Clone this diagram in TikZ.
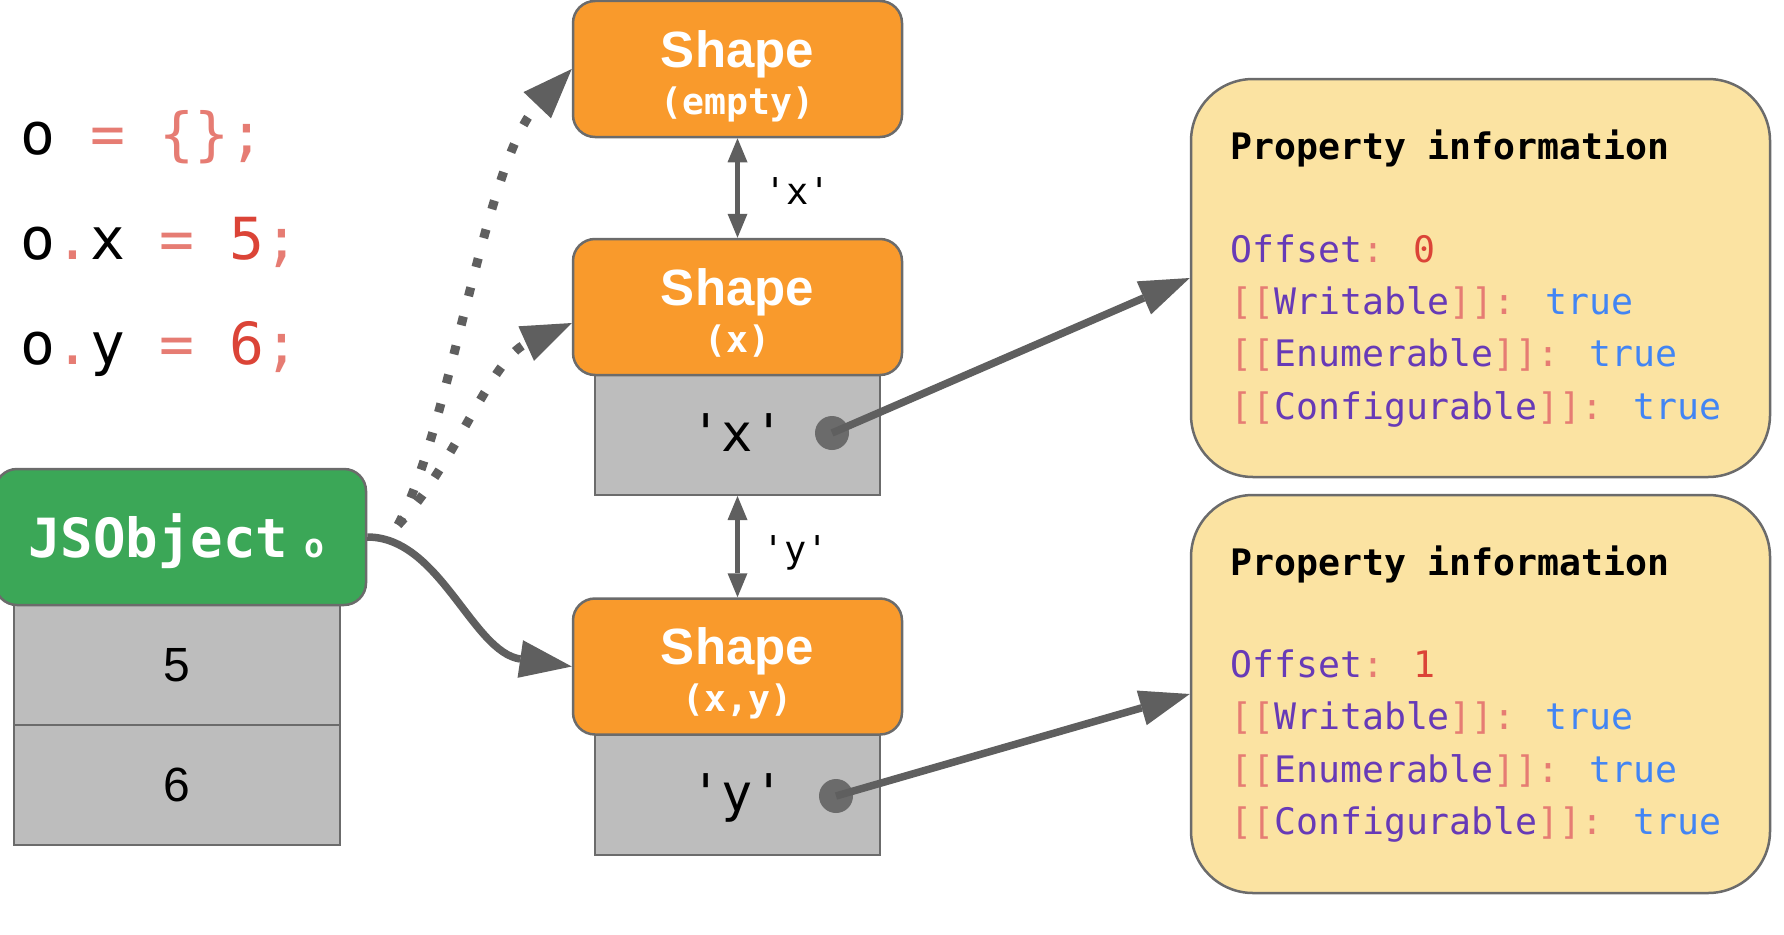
\documentclass[tikz,border=0pt]{standalone}
\usepackage{fontspec}
\setmainfont{Liberation Sans}
\newfontfamily\monof{DejaVu Sans Mono}[Ligatures=TeXOff]
\usetikzlibrary{arrows.meta,calc}
\definecolor{jsgreen}{HTML}{3BA757}
\definecolor{shorange}{HTML}{F99A2C}
\definecolor{cellgray}{HTML}{BDBDBD}
\definecolor{edgegray}{HTML}{6B6B6B}
\definecolor{linegray}{HTML}{5F5F5F}
\definecolor{propyellow}{HTML}{FBE3A2}
\definecolor{csalmon}{HTML}{E67C73}
\definecolor{cred}{HTML}{DB4437}
\definecolor{cpurple}{HTML}{673AB7}
\definecolor{cblue}{HTML}{4285F4}
\newcommand\setfs[1]{\fontsize{#1}{#1}\selectfont}
\newcommand\sal[1]{\textcolor{csalmon}{#1}}
\newcommand\pur[1]{\textcolor{cpurple}{#1}}
\newcommand\blu[1]{\textcolor{cblue}{#1}}
\newcommand\rdd[1]{\textcolor{cred}{#1}}
\begin{document}
\begin{tikzpicture}[x=1pt,y=-1pt,
  shapebox/.style={draw=edgegray, line width=2.5pt, fill=shorange, rounded corners=22pt, minimum width=329pt, minimum height=136pt, inner sep=0pt},
  cellbox/.style={draw=edgegray, line width=2pt, fill=cellgray, minimum width=285pt, minimum height=120pt, inner sep=0pt},
  jscell/.style={draw=edgegray, line width=2pt, fill=cellgray, minimum width=326pt, minimum height=120pt, inner sep=0pt, font=\setfs{48}},
  jsbox/.style={draw=edgegray, line width=2.5pt, fill=jsgreen, rounded corners=22pt, minimum width=371pt, minimum height=136pt, inner sep=0pt},
  propbox/.style={draw=edgegray, line width=2.5pt, fill=propyellow, rounded corners=62pt, minimum width=579pt, minimum height=398pt, inner sep=0pt},
  shapetitle/.style={anchor=base, inner sep=0pt, text=white, font=\bfseries\setfs{51}},
  shapesub/.style={anchor=base, inner sep=0pt, text=white, font={\monof\bfseries\setfs{36.5}}},
  celltext/.style={anchor=base, inner sep=0pt, font={\monof\setfs{52}}},
  codetext/.style={anchor=base west, inner sep=0pt, font={\monof\setfs{58}}},
  proptext/.style={anchor=base west, inner sep=0pt, font={\monof\setfs{36.5}}},
  edgelabel/.style={anchor=base west, inner sep=0pt, font={\monof\setfs{37}}},
  dotnode/.style={circle, fill=edgegray, minimum size=34pt, inner sep=0pt},
  conn/.style={draw=linegray, line width=7.5pt},
  bigtip/.style={-{Triangle[length=50pt,width=36pt,line width=0pt]}},
  dotline/.style={draw=linegray, line width=9pt, dash pattern=on 9pt off 21pt, -{Triangle[length=50pt,width=38pt,line width=0pt]}},
  dbl/.style={draw=linegray, line width=4.5pt, {Triangle[length=24pt,width=20pt,line width=0pt]}-{Triangle[length=24pt,width=20pt,line width=0pt]}}
]
\useasboundingbox (0,0) rectangle (1784,934);

% code
\node[codetext] (code1) at (20,154) {o \sal{= \{\};}};
\node[codetext] (code2) at (20,259) {o\sal{.}x \sal{=} \rdd{5}\sal{;}};
\node[codetext] (code3) at (20,364) {o\sal{.}y \sal{=} \rdd{6}\sal{;}};

% JSObject
\node[jscell] (v5) at (177,665) {5};
\node[jscell] (v6) at (177,785) {6};
\node[jsbox] (jso) at (180.5,537) {};
\node[anchor=base west, inner sep=0pt, text=white, font={\monof\bfseries\setfs{54}}] (jsot) at (28,557) {JSObject};
\node[anchor=base west, inner sep=0pt, text=white, font={\monof\bfseries\setfs{33}}] (jsoo) at (304,557) {o};

% shapes
\node[cellbox] (c1) at (737.5,435) {};
\node[cellbox] (c2) at (737.5,795) {};
\node[shapebox] (s0) at (737.5,69) {};
\node[shapebox] (s1) at (737.5,307) {};
\node[shapebox] (s2) at (737.5,666.5) {};
\node[shapetitle] (s0t) at (737.5,67) {Shape};
\node[shapesub] (s0s) at (737.5,114) {(empty)};
\node[shapetitle] (s1t) at (737.5,305) {Shape};
\node[shapesub] (s1s) at (737.5,352) {(x)};
\node[shapetitle] (s2t) at (737.5,664) {Shape};
\node[shapesub] (s2s) at (737.5,711) {(x,y)};
\node[celltext] (c1t) at (737.5,451) {'x'};
\node[celltext] (c2t) at (737.5,811) {'y'};

% property boxes
\node[propbox] (p1) at (1480.5,278) {};
\node[propbox] (p2) at (1480.5,694) {};
\node[proptext, font={\monof\bfseries\setfs{36.5}}] (p1a) at (1230,159) {Property information};
\node[proptext] (p1b) at (1230,262) {\pur{Offset}\sal{:} \rdd{0}};
\node[proptext] (p1c) at (1230,314) {\sal{[[}\pur{Writable}\sal{]]:} \blu{true}};
\node[proptext] (p1d) at (1230,366) {\sal{[[}\pur{Enumerable}\sal{]]:} \blu{true}};
\node[proptext] (p1e) at (1230,419) {\sal{[[}\pur{Configurable}\sal{]]:} \blu{true}};
\node[proptext, font={\monof\bfseries\setfs{36.5}}] (p2a) at (1230,575) {Property information};
\node[proptext] (p2b) at (1230,677) {\pur{Offset}\sal{:} \rdd{1}};
\node[proptext] (p2c) at (1230,729) {\sal{[[}\pur{Writable}\sal{]]:} \blu{true}};
\node[proptext] (p2d) at (1230,782) {\sal{[[}\pur{Enumerable}\sal{]]:} \blu{true}};
\node[proptext] (p2e) at (1230,834) {\sal{[[}\pur{Configurable}\sal{]]:} \blu{true}};

% transitions
\draw[dbl] (s0.south) -- (s1.north);
\draw[dbl] (c1.south) -- (s2.north);
\node[edgelabel] (lx) at (764,204) {'x'};
\node[edgelabel] (ly) at (762,562) {'y'};

% dots and pointers
\node[dotnode] (dx) at (832,433) {};
\node[dotnode] (dy) at (836,796) {};
\draw[conn, bigtip] (dx.center) -- (p1.west);
\draw[conn, bigtip] (dy.center) -- (p2.west);

% JSObject connectors
\coordinate (dstart) at (398,525);
\coordinate (s1in) at ($(s1.west)+(0,16)$);
\draw[dotline] (dstart) .. controls (450,430) and (485,160) .. (s0.west);
\draw[dotline] (dstart) .. controls (455,465) and (490,360) .. (s1in);
\draw[conn, -{Triangle[length=52pt,width=38pt,line width=0pt]}] (jso.east) .. controls (440,537) and (472,652) .. (s2.west);
\end{tikzpicture}
\end{document}
